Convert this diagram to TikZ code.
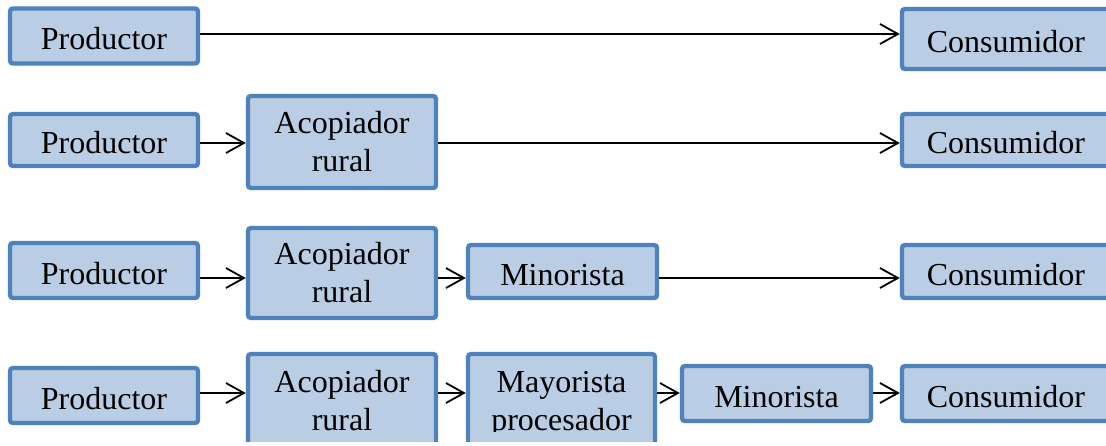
\documentclass[tikz,border=0pt]{standalone}
\usepackage{fontspec}
\setmainfont{Liberation Serif}
\usetikzlibrary{arrows.meta}
\definecolor{boxborder}{HTML}{4F81BD}
\definecolor{boxfill}{HTML}{B9CDE5}
\tikzset{
  box/.style={draw=boxborder, fill=boxfill, line width=2.2pt, rounded corners=1.5pt,
    inner sep=0pt, font=\fontsize{16}{19}\selectfont, align=center, text=black},
  one/.style={text height=13.5pt, text depth=0pt},
  pw/.style={minimum width=94pt},
  cw/.style={minimum width=104pt},
  lbl/.style={inner sep=0pt, font=\fontsize{16}{19}\selectfont, align=center, text=black},
  arr/.style={draw=black, line width=0.9pt, -{Straight Barb[length=9pt,width=10pt,line width=0.9pt]}}
}
\begin{document}
\begin{tikzpicture}[x=0.5pt,y=-0.5pt]
\useasboundingbox (0,0) rectangle (1106,445);
\clip (0,0) rectangle (1106,441);
% row coordinates for connectors
\coordinate (r1) at (0,34);
\coordinate (r2) at (0,143);
\coordinate (r3) at (0,278);
\coordinate (r4) at (0,393);
\coordinate (cut) at (0,431);
% row 1
\node[box,one,pw,minimum height=27.5pt] (P1) at (104,36) {Productor};
\node[box,one,cw,minimum height=30pt] (C1) at (1006,39) {Consumidor};
% row 2
\node[box,one,pw,minimum height=26pt] (P2) at (104,140) {Productor};
\node[box,pw,minimum height=46pt] (A2) at (342,142) {Acopiador\\rural};
\node[box,one,cw,minimum height=26pt] (C2) at (1006,140) {Consumidor};
% row 3
\node[box,one,pw,minimum height=27.5pt] (P3) at (104,270.5) {Productor};
\node[box,pw,minimum height=45pt] (A3) at (342,273) {Acopiador\\rural};
\node[box,one,minimum width=94.5pt,minimum height=26.5pt] (M3) at (562.5,271.5) {Minorista};
\node[box,one,cw,minimum height=26.5pt] (C3) at (1006,271.5) {Consumidor};
% row 4
\node[box,one,pw,minimum height=27.5pt] (P4) at (104,395.5) {Productor};
\node[box,pw,minimum height=47pt] (A4) at (342,401) {Acopiador\\rural};
\node[box,minimum width=93.5pt,minimum height=47pt] (May) at (561.5,401) {};
\begin{scope}
  \clip (May.north west) rectangle (May.east |- cut);
  \node[lbl,anchor=north] (MayT) at (561.5,371) {Mayorista\\procesador};
\end{scope}
\node[box,one,minimum width=94.5pt,minimum height=27.5pt] (M4) at (776.5,393.5) {Minorista};
\node[box,one,cw,minimum height=27.5pt] (C4) at (1006,393.5) {Consumidor};
% connectors
\draw[arr] (P1.east |- r1) -- (C1.west |- r1);
\draw[arr] (P2.east |- r2) -- (A2.west |- r2);
\draw[arr] (A2.east |- r2) -- (C2.west |- r2);
\draw[arr] (P3.east |- r3) -- (A3.west |- r3);
\draw[arr] (A3.east |- r3) -- (M3.west |- r3);
\draw[arr] (M3.east |- r3) -- (C3.west |- r3);
\draw[arr] (P4.east |- r4) -- (A4.west |- r4);
\draw[arr] (A4.east |- r4) -- (May.west |- r4);
\draw[arr] (May.east |- r4) -- (M4.west |- r4);
\draw[arr] (M4.east |- r4) -- (C4.west |- r4);
\end{tikzpicture}
\end{document}
